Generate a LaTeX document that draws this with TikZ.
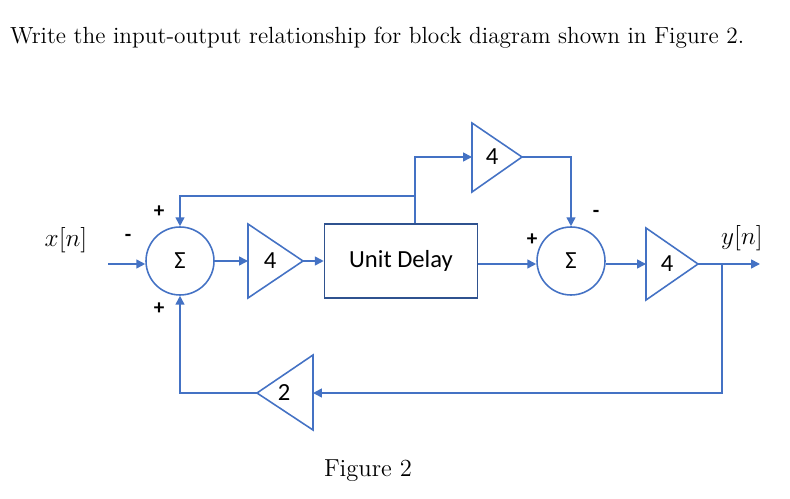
\documentclass[tikz,border=0pt]{standalone}
\usepackage{fontspec}
\newfontfamily\blockfont{Carlito}
\usetikzlibrary{arrows.meta}
\definecolor{lineblue}{RGB}{68,114,196}
\definecolor{boxblue}{RGB}{47,82,143}
\tikzset{
  sig/.style={draw=lineblue,line width=0.9pt,-{Triangle[length=5pt,width=5pt]}},
  wire/.style={draw=lineblue,line width=0.9pt},
  blk/.style={draw=lineblue,line width=0.9pt},
  lbl/.style={font=\blockfont\fontsize{14}{14}\selectfont},
  sgn/.style={font=\blockfont\bfseries\fontsize{12}{12}\selectfont}
}
\begin{document}
\begin{tikzpicture}[x=0.02cm,y=-0.02cm]
        \useasboundingbox (0,0) rectangle (790,499);

        \node[anchor=west,font=\fontsize{13.3}{14}\selectfont] (title) at (4,38) {Write the input-output relationship for block diagram shown in Figure 2.};

        % summing junctions
        \node[blk,circle,minimum size=1.36cm,inner sep=0pt,lbl] (sumA) at (180,261) {Σ};
        \node[blk,circle,minimum size=1.36cm,inner sep=0pt,lbl] (sumB) at (571,261) {Σ};

        % unit delay
        \node[draw=boxblue,line width=0.9pt,minimum width=3.06cm,minimum height=1.48cm,lbl] (delay) at (401,261) {Unit Delay};

        % gain after first sum
        \coordinate (gA1) at (248,224);
        \coordinate (gA2) at (248,298);
        \coordinate (gAin) at (248,261);
        \coordinate (gAout) at (303,261);
        \draw[blk] (gA1) -- (gAout) -- (gA2) -- cycle;
        \node[lbl] (gAlbl) at (270,261) {4};

        % gain on top branch
        \coordinate (gB1) at (472,123);
        \coordinate (gB2) at (472,192);
        \coordinate (gBin) at (472,157);
        \coordinate (gBout) at (522,157);
        \draw[blk] (gB1) -- (gBout) -- (gB2) -- cycle;
        \node[lbl] (gBlbl) at (492,157) {4};

        % output gain
        \coordinate (gC1) at (646,228);
        \coordinate (gC2) at (646,300);
        \coordinate (gCin) at (646,264);
        \coordinate (gCout) at (698,264);
        \draw[blk] (gC1) -- (gCout) -- (gC2) -- cycle;
        \node[lbl] (gClbl) at (667,264) {4};

        % feedback gain
        \coordinate (gD1) at (313,355);
        \coordinate (gD2) at (313,430);
        \coordinate (gDin) at (313,393);
        \coordinate (gDout) at (257,393);
        \draw[blk] (gD1) -- (gDout) -- (gD2) -- cycle;
        \node[lbl] (gDlbl) at (284,393) {2};

        % signals
        \node[font=\fontsize{15}{15}\selectfont] (xin) at (66,240) {$x[n]$};
        \node[font=\fontsize{15}{15}\selectfont] (yout) at (742,238) {$y[n]$};
        \coordinate (inL) at (108,264);
        \coordinate (outR) at (760,264);
        \coordinate (tap) at (722,264);
        \draw[sig] (inL) -- (sumA.west |- inL);
        \draw[sig] (sumA) -- (gAin);
        \draw[sig] (gAout) -- (delay.west |- gAout);
        \draw[sig] (delay.east |- gCin) -- (sumB.west |- gCin);
        \draw[sig] (sumB.east |- gCin) -- (gCin);
        \draw[sig] (gCout) -- (outR);

        % top branches
        \coordinate (up) at (415,196);
        \draw[wire] (delay.north -| up) -- (up);
        \draw[sig] (up) -| (sumA.north);
        \draw[sig] (up) |- (gBin);
        \draw[sig] (gBout) -| (sumB.north);

        % feedback loop
        \draw[sig] (tap) |- (gDin);
        \draw[sig] (gDout) -| (sumA.south);

        % signs
        \node[sgn] (sAm) at (128,238) {-};
        \node[sgn] (sAt) at (159,212) {+};
        \node[sgn] (sAb) at (159,309) {+};
        \node[sgn] (sBl) at (532,240) {+};
        \node[sgn] (sBt) at (596,214) {-};

        \node[font=\fontsize{14}{14}\selectfont] (cap) at (368,471) {Figure 2};
\end{tikzpicture}
\end{document}
